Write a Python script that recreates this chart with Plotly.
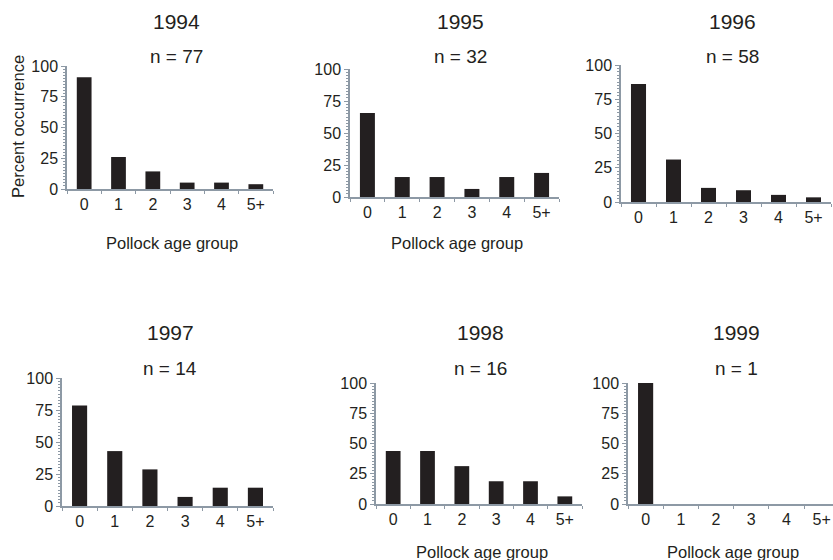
import plotly.graph_objects as go

W, H = 833, 560

years = ["1994", "1995", "1996", "1997", "1998", "1999"]
sample_sizes = [77, 32, 58, 14, 16, 1]
age_groups = ["0", "1", "2", "3", "4", "5+"]
pct_1994 = [90.9, 26.0, 14.3, 5.2, 5.2, 3.9]
pct_1995 = [65.6, 15.6, 15.6, 6.3, 15.6, 18.8]
pct_1996 = [86.2, 31.0, 10.3, 8.6, 5.2, 3.4]
pct_1997 = [78.6, 42.9, 28.6, 7.1, 14.3, 14.3]
pct_1998 = [43.8, 43.8, 31.3, 18.8, 18.8, 6.3]
pct_1999 = [100.0, 0, 0, 0, 0, 0]
all_pct = [pct_1994, pct_1995, pct_1996, pct_1997, pct_1998, pct_1999]
y_ticks = [0, 25, 50, 75, 100]

# panel plot areas in pixels: (left, right, top, bottom)
panels = [
    (67, 273, 66, 189),
    (350, 559, 69, 197),
    (621, 831, 65, 202),
    (62, 273, 378, 506),
    (376, 582, 383, 504),
    (628, 833, 383, 504),
]
xmax = [5.5, 5.5, 5.5, 5.5, 5.5, 5.32]
titles = [
    (176, 22, 57), (460, 22, 57), (732, 22, 57),
    (170, 332, 368), (480, 332, 368), (736, 332, 368),
]
show_xlabel = [True, True, False, False, True, True]
xlabel_pos = [(172, 243), (457, 243), None, None, (482, 552), (733, 552)]

FONT = "Liberation Sans, Arial, sans-serif"
TXT = "#231f20"
AXC = "#8d99a5"

fig = go.Figure()
annotations = []
for i, (yr, n, vals) in enumerate(zip(years, sample_sizes, all_pct)):
    k = "" if i == 0 else str(i + 1)
    fig.add_trace(go.Bar(
        x=age_groups, y=vals, xaxis="x" + k, yaxis="y" + k,
        width=0.43,
        marker=dict(color="#231f20", line=dict(width=0)),
        showlegend=False,
    ))
    l, r, t, b = panels[i]
    fig.layout["xaxis" + k] = dict(
        domain=[l / W, r / W], anchor="y" + k,
        range=[-0.5, xmax[i]], type="category",
        showline=True, linecolor=AXC, linewidth=1.5,
        ticks="outside", ticklen=3, tickcolor=AXC, tickson="boundaries",
        showgrid=False, zeroline=False, automargin=False,
        tickfont=dict(family=FONT, size=16, color=TXT),
        fixedrange=True,
    )
    fig.layout["yaxis" + k] = dict(
        domain=[1 - b / H, 1 - t / H], anchor="x" + k,
        range=[0, 100], tickvals=y_ticks,
        showline=True, linecolor=AXC, linewidth=1.5,
        ticks="outside", ticklen=4, tickcolor=AXC,
        minor=dict(dtick=2.5, ticks="outside", ticklen=2, tickcolor=AXC),
        showgrid=False, zeroline=False, automargin=False,
        tickfont=dict(family=FONT, size=16, color=TXT),
        fixedrange=True,
    )
    tx, ty, ny = titles[i]
    annotations.append(dict(text=yr, x=tx / W, y=1 - ty / H, xref="paper", yref="paper",
                            showarrow=False, xanchor="center", yanchor="middle",
                            font=dict(family=FONT, size=21, color=TXT)))
    annotations.append(dict(text=f"n = {n}", x=tx / W, y=1 - ny / H, xref="paper", yref="paper",
                            showarrow=False, xanchor="center", yanchor="middle",
                            font=dict(family=FONT, size=19, color=TXT)))
    if show_xlabel[i]:
        px, py = xlabel_pos[i]
        annotations.append(dict(text="Pollock age group", x=px / W, y=1 - py / H,
                                xref="paper", yref="paper", showarrow=False,
                                xanchor="center", yanchor="middle",
                                font=dict(family=FONT, size=16.5, color=TXT)))

annotations.append(dict(text="Percent occurrence", x=18 / W, y=1 - 127 / H,
                        xref="paper", yref="paper", showarrow=False, textangle=-90,
                        xanchor="center", yanchor="middle",
                        font=dict(family=FONT, size=16.5, color=TXT)))

fig.update_layout(
    width=W, height=H, autosize=False,
    margin=dict(l=0, r=0, t=0, b=0, pad=0),
    paper_bgcolor="white", plot_bgcolor="white",
    annotations=annotations,
)
fig.write_html(
    "out.html",
    config={"displayModeBar": False},
    post_script="document.body.style.margin='0';document.body.style.overflow='hidden';",
)
